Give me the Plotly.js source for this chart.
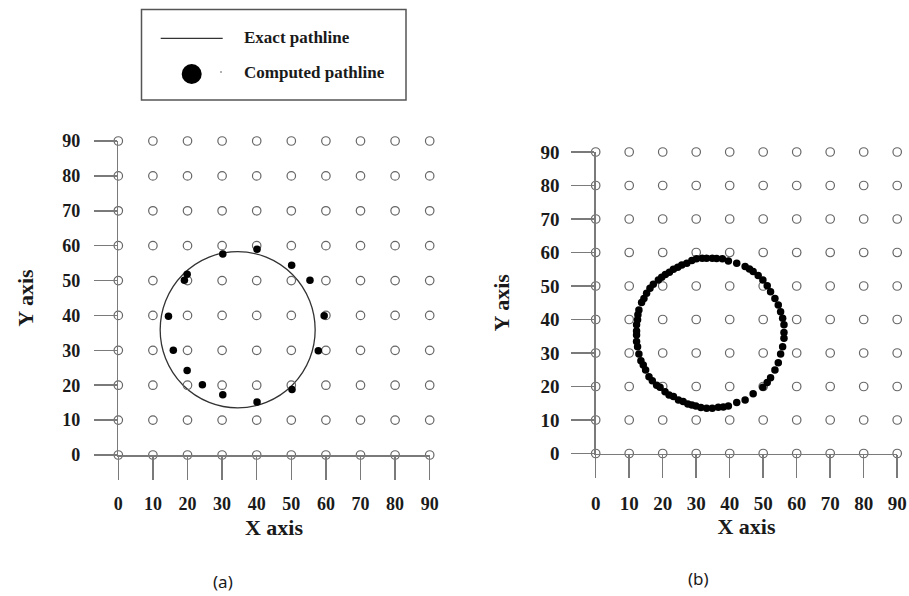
<!DOCTYPE html>
<html>
<head>
<meta charset="utf-8">
<script src="https://cdn.plot.ly/plotly-3.0.1.min.js"></script>
<style>html,body{margin:0;padding:0;background:#fff;}#chart{width:909px;height:596px;}</style>
</head>
<body>
<div id="chart"></div>
<script>
// ---- data ----
const gridVals = [0, 10, 20, 30, 40, 50, 60, 70, 80, 90];
const tickLabels = ['0', '10', '20', '30', '40', '50', '60', '70', '80', '90'];

// exact pathline (circle)
const exactCenter = [34.5, 35.9];
const exactRadius = 22.4;

// (a) computed pathline points
const leftX = [30.2, 40.1, 50.1, 55.4, 59.5, 57.8, 50.2, 40.1, 30.2, 24.3, 19.9, 15.9, 14.5, 19.1, 19.9];
const leftY = [57.6, 59.0, 54.4, 50.1, 39.9, 29.9, 18.8, 15.2, 17.3, 20.1, 24.2, 30.0, 39.8, 50.1, 51.8];

// (b) computed pathline points
const rightX = [36.1, 34.8, 33.1, 31.8, 30.1, 28.7, 27.2, 25.7, 24.5, 23.2, 22.0, 20.8, 19.7, 18.7, 17.2, 16.2, 15.2, 14.4, 13.7, 12.9, 12.6, 12.5, 12.2, 12.2, 12.2, 12.2, 12.5, 12.9, 13.5, 14.2, 14.9, 15.9, 16.9, 18.2, 19.2, 20.7, 21.9, 23.2, 24.7, 26.1, 27.5, 28.7, 29.9, 31.4, 33.1, 34.8, 36.6, 38.1, 39.6, 42.1, 44.6, 47.0, 49.9, 51.2, 52.2, 53.5, 54.5, 55.2, 55.8, 56.2, 56.2, 56.2, 55.8, 55.2, 54.5, 53.5, 52.2, 51.2, 49.9, 48.5, 47.0, 45.9, 44.6, 42.1, 39.6, 37.8];
const rightY = [58.2, 58.3, 58.3, 58.3, 58.1, 57.6, 56.8, 56.3, 55.6, 55.0, 54.1, 53.4, 52.6, 51.8, 50.5, 49.3, 47.8, 46.3, 45.1, 42.8, 41.4, 39.9, 38.4, 36.6, 35.4, 33.4, 31.9, 29.7, 27.7, 26.4, 24.9, 22.9, 21.7, 20.4, 19.8, 18.4, 17.5, 17.0, 16.0, 15.5, 14.8, 14.5, 14.2, 13.7, 13.5, 13.5, 13.8, 13.9, 14.2, 15.2, 16.0, 17.8, 19.8, 21.2, 22.6, 24.9, 27.1, 29.7, 31.9, 34.4, 36.1, 38.4, 40.4, 42.3, 44.3, 46.3, 48.3, 50.1, 51.8, 53.1, 54.3, 55.1, 55.8, 56.8, 57.5, 58.1];

// legend / panel texts
const legendLabels = ['Exact pathline', 'Computed pathline'];
const panelLabels = ['(a)', '(b)'];
const axisTitles = ['X axis', 'Y axis'];

// ---- build grid of reference nodes ----
const gridX = [], gridY = [];
gridVals.forEach(gx => gridVals.forEach(gy => { gridX.push(gx); gridY.push(gy); }));

const W = 909, H = 596;
const px = v => v / W;
const py = v => 1 - v / H;

const serif = 'Liberation Serif, Times New Roman, serif';
const ink = '#1a1a1a';
const gridMarker = {symbol: 'circle-open', size: 8.5, color: '#666', line: {width: 1.2, color: '#666'}};

const traces = [
  {x: gridX, y: gridY, xaxis: 'x', yaxis: 'y', mode: 'markers', marker: gridMarker, cliponaxis: false, hoverinfo: 'skip', name: 'grid (a)'},
  {x: leftX, y: leftY, xaxis: 'x', yaxis: 'y', mode: 'markers', marker: {size: 7.5, color: '#000'}, cliponaxis: false, name: legendLabels[1]},
  {x: gridX, y: gridY, xaxis: 'x2', yaxis: 'y2', mode: 'markers', marker: gridMarker, cliponaxis: false, hoverinfo: 'skip', name: 'grid (b)'},
  {x: rightX, y: rightY, xaxis: 'x2', yaxis: 'y2', mode: 'markers', marker: {size: 7.5, color: '#000'}, cliponaxis: false, name: legendLabels[1]}
];

function axis(domain, opts) {
  return Object.assign({
    domain: domain,
    range: [0, 90],
    tickmode: 'array',
    tickvals: gridVals,
    ticktext: tickLabels,
    ticks: 'outside',
    ticklen: 23,
    tickwidth: 1.5,
    tickcolor: '#7a7a7a',
    showline: true,
    linecolor: '#7a7a7a',
    linewidth: 1.5,
    showgrid: false,
    zeroline: false,
    fixedrange: true,
    tickfont: {family: serif, size: 18, color: ink, weight: 'bold'}
  }, opts);
}

const titleFont = {family: serif, size: 22, color: ink, weight: 'bold'};

const layout = {
  width: W, height: H,
  margin: {l: 0, r: 0, t: 0, b: 0},
  paper_bgcolor: '#fff', plot_bgcolor: 'rgba(0,0,0,0)',
  showlegend: false,
  xaxis: axis([px(118.3), px(429.7)], {anchor: 'y', ticklabelstandoff: 9,
    title: {text: axisTitles[0], font: titleFont, standoff: 6}}),
  yaxis: axis([py(455), py(141)], {anchor: 'x', ticklabelstandoff: 10,
    title: {text: axisTitles[1], font: titleFont, standoff: 22}}),
  xaxis2: axis([px(595.7), px(897.2)], {anchor: 'y2', ticklabelstandoff: 9, tickfont: {family: serif, size: 19, color: ink, weight: 'bold'},
    title: {text: axisTitles[0], font: titleFont, standoff: 2}}),
  yaxis2: axis([py(453.5), py(152)], {anchor: 'x2', ticklabelstandoff: 8, tickfont: {family: serif, size: 19, color: ink, weight: 'bold'},
    title: {text: axisTitles[1], font: titleFont, standoff: 24}}),
  shapes: [
    {type: 'circle', xref: 'x', yref: 'y',
     x0: exactCenter[0] - exactRadius, x1: exactCenter[0] + exactRadius,
     y0: exactCenter[1] - exactRadius, y1: exactCenter[1] + exactRadius,
     line: {color: '#333', width: 1.3}, layer: 'below'},
    // legend box
    {type: 'rect', xref: 'paper', yref: 'paper', x0: px(141.5), x1: px(406), y0: py(100), y1: py(9.5),
     line: {color: '#555', width: 1.5}, fillcolor: 'rgba(0,0,0,0)'},
    {type: 'line', xref: 'paper', yref: 'paper', x0: px(160.7), x1: px(222.7), y0: py(38.3), y1: py(38.3),
     line: {color: '#333', width: 1.3}},
    {type: 'circle', xref: 'paper', yref: 'paper', x0: px(181.7), x1: px(201.7), y0: py(84), y1: py(64),
     line: {color: '#000', width: 0}, fillcolor: '#000'},
    {type: 'circle', xref: 'paper', yref: 'paper', x0: px(220), x1: px(222), y0: py(73), y1: py(71),
     line: {color: '#999', width: 0}, fillcolor: '#999'}
  ],
  annotations: [
    {xref: 'paper', yref: 'paper', x: px(241.5), y: py(38), xanchor: 'left', yanchor: 'middle', showarrow: false,
     text: legendLabels[0], font: {family: serif, size: 17, color: ink, weight: 'bold'}},
    {xref: 'paper', yref: 'paper', x: px(241.5), y: py(72.5), xanchor: 'left', yanchor: 'middle', showarrow: false,
     text: legendLabels[1], font: {family: serif, size: 17, color: ink, weight: 'bold'}},
    {xref: 'paper', yref: 'paper', x: px(223), y: py(581), xanchor: 'center', yanchor: 'middle', showarrow: false,
     text: panelLabels[0], font: {family: 'Noto Sans, sans-serif', size: 17, color: ink}},
    {xref: 'paper', yref: 'paper', x: px(698), y: py(578), xanchor: 'center', yanchor: 'middle', showarrow: false,
     text: panelLabels[1], font: {family: 'Noto Sans, sans-serif', size: 17, color: ink}}
  ]
};

Plotly.newPlot('chart', traces, layout, {staticPlot: true, displayModeBar: false});
</script>
</body>
</html>
